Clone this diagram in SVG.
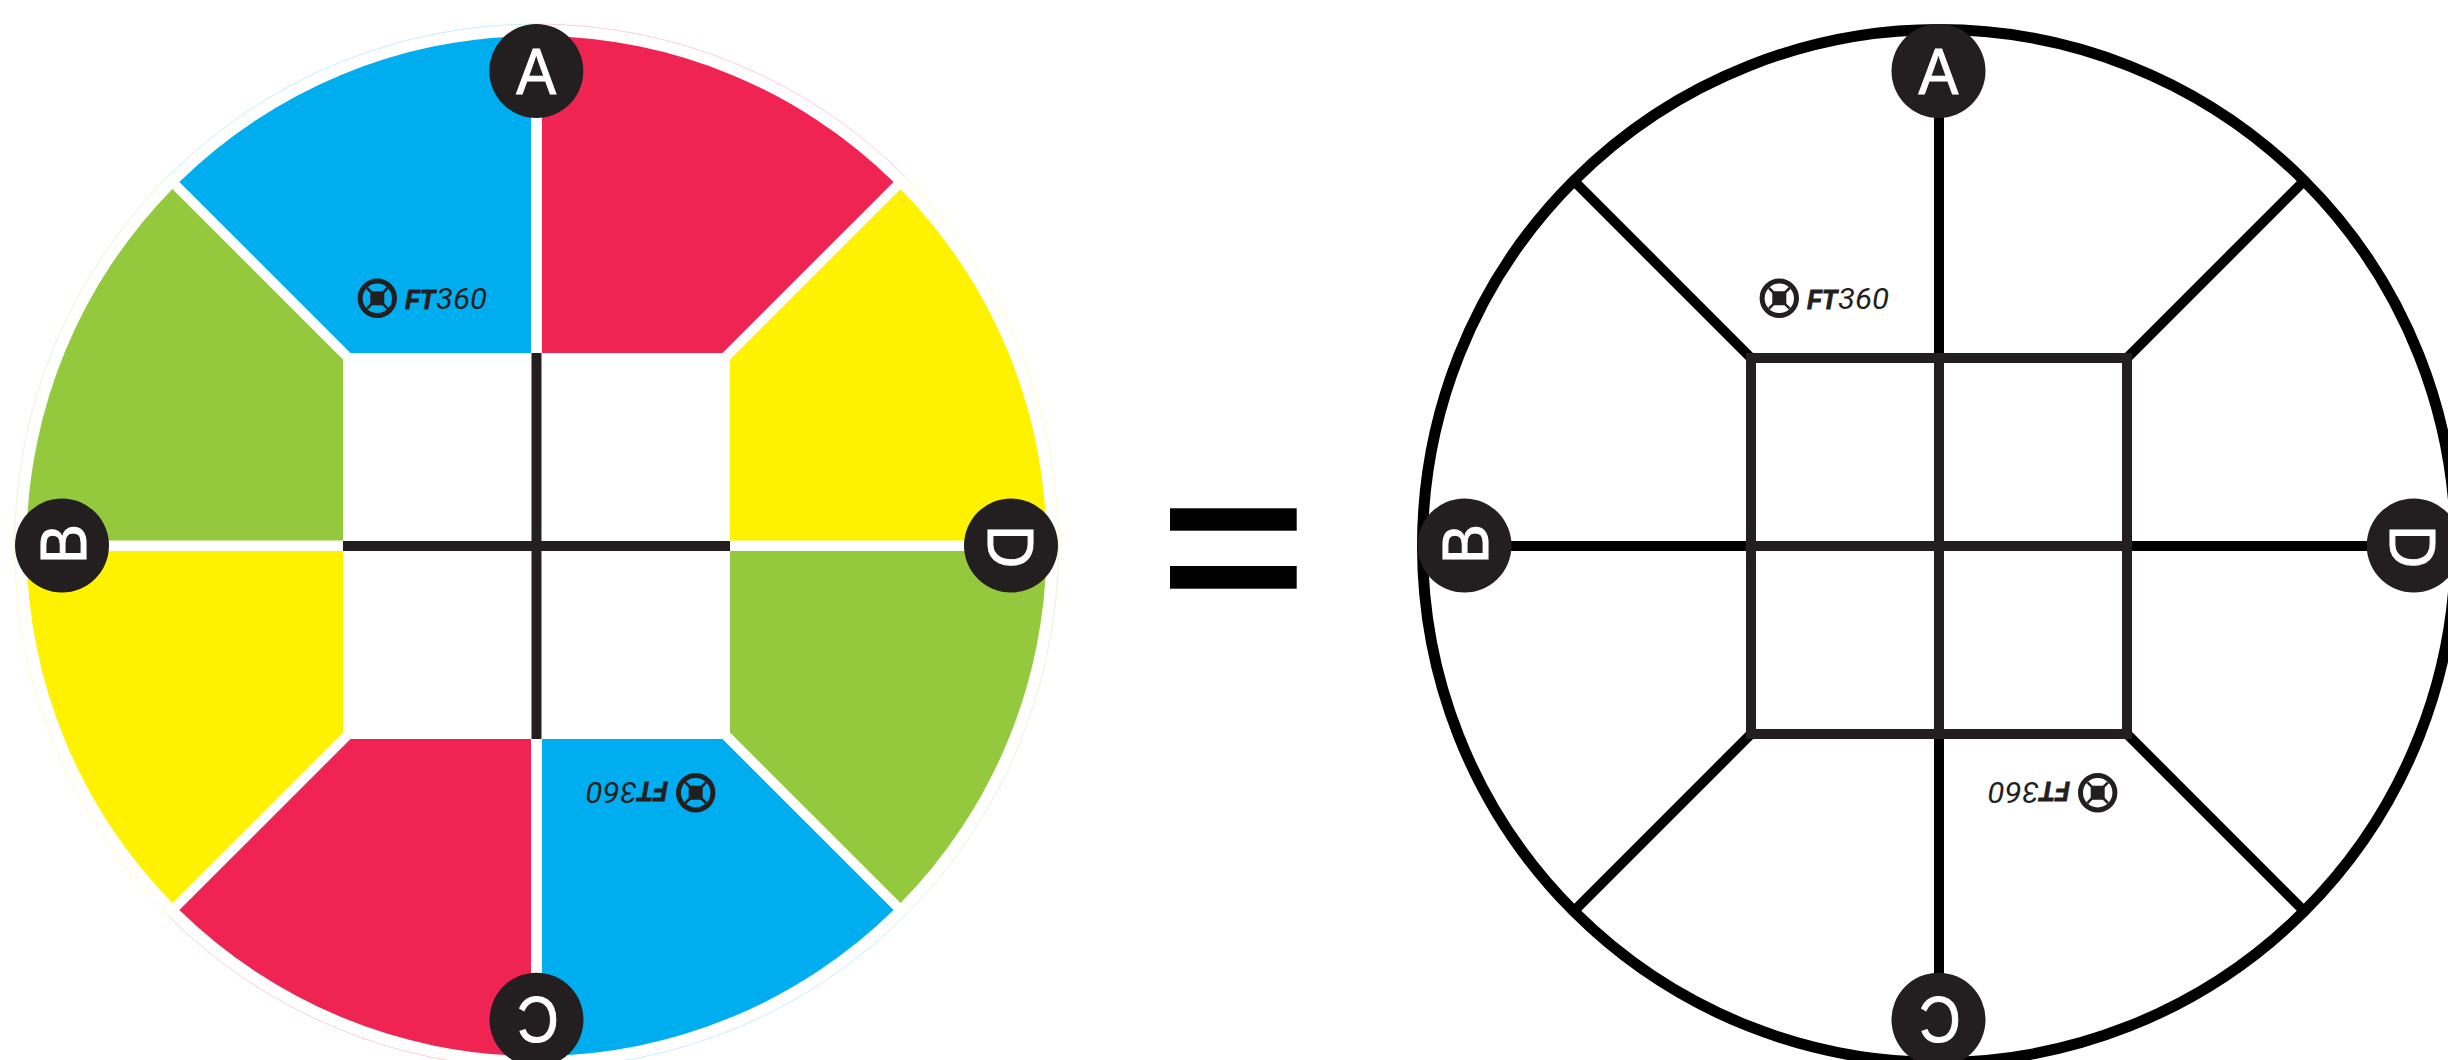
<svg xmlns="http://www.w3.org/2000/svg" width="2448" height="1060" viewBox="0 0 2448 1060">
<style>
.blue{fill:#00aeef}.red{fill:#ef2452}.yellow{fill:#fff200}.green{fill:#95c93d}
.rim{fill:none;stroke-width:.5;stroke-opacity:.45}
.badge{fill:#231f20}
.letter{fill:#fff;stroke:#fff;stroke-width:1;font-family:"Liberation Sans",Arial,sans-serif;font-size:65px;text-anchor:middle}
.dark{fill:none;stroke:#231f20;stroke-width:10}
.black{fill:none;stroke:#000;stroke-width:10}
.hoop{fill:none;stroke:#000;stroke-width:11}
.wheel{fill:none;stroke:#231f20;stroke-width:5}
.spoke{fill:none;stroke:#231f20;stroke-width:2.5}
.hub{fill:#231f20}
.ft{fill:#231f20;stroke:#231f20;stroke-width:1;font-family:"Liberation Sans",Arial,sans-serif;font-size:28.5px;font-weight:700;font-style:italic}
.num{fill:#231f20;font-family:Roboto,"Liberation Sans",sans-serif;font-size:29px;font-weight:400;font-style:italic}
</style>
<rect width="2448" height="1060" fill="#fff"/>
<g id="left-wheel">
<g id="wedges">
<path class="blue" d="M531 353H350.5L179.4 181.9A510 510 0 0 1 531 36Z"/>
<path class="red" d="M542 353H722.5L893.6 181.9A510 510 0 0 0 542 36Z"/>
<path class="green" d="M343 540.5V359.5L172.4 188.9A510 510 0 0 0 26.5 540.5Z"/>
<path class="yellow" d="M730 540.5V359.5L900.6 188.9A510 510 0 0 1 1046.5 540.5Z"/>
<path class="yellow" d="M343 551V732.5L172.4 903.1A510 510 0 0 1 26.5 551Z"/>
<path class="green" d="M730 551V732.5L900.6 903.1A510 510 0 0 0 1046.5 551Z"/>
<path class="red" d="M531 739H350.5L179.4 910.1A510 510 0 0 0 531 1056Z"/>
<path class="blue" d="M542 739H722.5L893.6 910.1A510 510 0 0 1 542 1056Z"/>
</g>
<g id="rim">
<path class="rim" stroke="#00aeef" d="M167.4 177A522 522 0 0 1 536.5 24"/>
<path class="rim" stroke="#ef2452" d="M536.5 24A522 522 0 0 1 905.6 177"/>
<path class="rim" stroke="#fff200" d="M905.6 177A522 522 0 0 1 1058.5 546"/>
<path class="rim" stroke="#95c93d" d="M1058.5 546A522 522 0 0 1 905.6 915"/>
<path class="rim" stroke="#00aeef" d="M905.6 915A522 522 0 0 1 536.5 1068"/>
<path class="rim" stroke="#ef2452" d="M536.5 1068A522 522 0 0 1 167.4 915"/>
<path class="rim" stroke="#fff200" d="M167.4 915A522 522 0 0 1 14.5 546"/>
<path class="rim" stroke="#95c93d" d="M14.5 546A522 522 0 0 1 167.4 177"/>
</g>
</g>
<g id="connectors">
<path class="dark" d="M536.5 353V739M343 546H730"/>
<path class="black" d="M1939 30V353M1939 739V1062M1420 546H1746M2132 546H2458M1574 181L1751 358M2304 181L2127 358M1574 911L1751 734M2304 911L2127 734"/>
<path class="dark" d="M1751 358H2127V734H1751ZM1939 358V734M1751 546H2127"/>
<circle class="hoop" cx="1939" cy="546" r="516.5"/>
</g>
<g id="logo-left-top">
<circle class="wheel" cx="377.3" cy="298.3" r="17.2"/>
<path class="spoke" d="M367 288L387.6 308.6M387.6 288L367 308.6"/>
<rect class="hub" x="370.3" y="291.3" width="14" height="14" rx="2"/>
<text class="ft" x="405" y="309" textLength="30" lengthAdjust="spacingAndGlyphs">FT</text>
<text class="num" x="436" y="309" textLength="51" lengthAdjust="spacingAndGlyphs">360</text>
</g>
<g id="logo-left-bottom" transform="rotate(180 536.5 545.5)">
<circle class="wheel" cx="377.3" cy="298.3" r="17.2"/>
<path class="spoke" d="M367 288L387.6 308.6M387.6 288L367 308.6"/>
<rect class="hub" x="370.3" y="291.3" width="14" height="14" rx="2"/>
<text class="ft" x="405" y="309" textLength="30" lengthAdjust="spacingAndGlyphs">FT</text>
<text class="num" x="436" y="309" textLength="51" lengthAdjust="spacingAndGlyphs">360</text>
</g>
<g id="logo-right-top" transform="translate(1402 0)">
<circle class="wheel" cx="377.3" cy="298.3" r="17.2"/>
<path class="spoke" d="M367 288L387.6 308.6M387.6 288L367 308.6"/>
<rect class="hub" x="370.3" y="291.3" width="14" height="14" rx="2"/>
<text class="ft" x="405" y="309" textLength="30" lengthAdjust="spacingAndGlyphs">FT</text>
<text class="num" x="436" y="309" textLength="51" lengthAdjust="spacingAndGlyphs">360</text>
</g>
<g id="logo-right-bottom" transform="translate(1402 0) rotate(180 536.5 545.5)">
<circle class="wheel" cx="377.3" cy="298.3" r="17.2"/>
<path class="spoke" d="M367 288L387.6 308.6M387.6 288L367 308.6"/>
<rect class="hub" x="370.3" y="291.3" width="14" height="14" rx="2"/>
<text class="ft" x="405" y="309" textLength="30" lengthAdjust="spacingAndGlyphs">FT</text>
<text class="num" x="436" y="309" textLength="51" lengthAdjust="spacingAndGlyphs">360</text>
</g>
<g id="equals">
<rect x="1170" y="508.3" width="126.7" height="22.4" fill="#000"/>
<rect x="1170" y="566" width="126.7" height="22.7" fill="#000"/>
</g>
<g id="node-a-left"><circle class="badge" cx="536.3" cy="71" r="47"/><text class="letter" transform="translate(536.3 94.3) scale(.92 1)">A</text></g>
<g id="node-b-left"><circle class="badge" cx="62" cy="545.5" r="47"/><text class="letter" transform="translate(85.5 544) rotate(-90) scale(.92 1)">B</text></g>
<g id="node-c-left"><circle class="badge" cx="536.5" cy="1019.7" r="47"/><text class="letter" transform="translate(538 997) rotate(180) scale(.88 1)">C</text></g>
<g id="node-d-left"><circle class="badge" cx="1011" cy="545.5" r="47"/><text class="letter" transform="translate(987.5 546.5) rotate(90) scale(.92 1)">D</text></g>
<g id="node-a-right"><circle class="badge" cx="1938.5" cy="71" r="47"/><text class="letter" transform="translate(1938.5 94.3) scale(.92 1)">A</text></g>
<g id="node-b-right"><circle class="badge" cx="1464.5" cy="545.5" r="47"/><text class="letter" transform="translate(1488 544) rotate(-90) scale(.92 1)">B</text></g>
<g id="node-c-right"><circle class="badge" cx="1938.5" cy="1019.7" r="47"/><text class="letter" transform="translate(1940 997) rotate(180) scale(.88 1)">C</text></g>
<g id="node-d-right"><circle class="badge" cx="2413.7" cy="545.5" r="47"/><text class="letter" transform="translate(2390 546.5) rotate(90) scale(.92 1)">D</text></g>
</svg>
